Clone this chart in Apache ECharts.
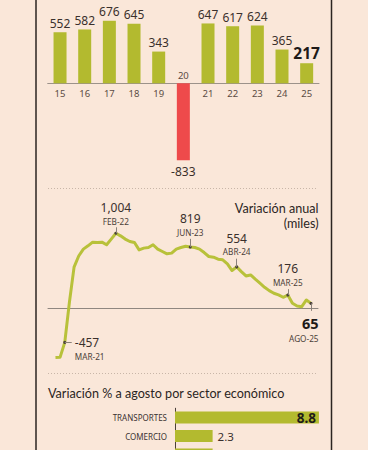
<!DOCTYPE html>
<html><head><meta charset="utf-8">
<script src="https://cdn.jsdelivr.net/npm/echarts@6/dist/echarts.min.js"></script>
<style>
html,body{margin:0;padding:0;background:#fae7d9;}
#c{width:368px;height:450px;}
#c svg text{font-stretch:62.5% !important;}
</style>
</head><body><div id="c"></div>
<script>
// ---------- DATA ----------
const years = ['15','16','17','18','19','20','21','22','23','24','25'];
const yearValues = [552,582,676,645,343,-833,647,617,624,365,217];

const monthNames = ['ENE','FEB','MAR','ABR','MAY','JUN','JUL','AGO','SEP','OCT','NOV','DIC'];
const monthYears = ['21','22','23','24','25'];
const monthlyValues = [
  -658,-655,-457,80,550,700,792,836,885,880,885,850,   // 2021
  926,1004,970,926,894,880,782,805,813,850,792,760,    // 2022
  729,738,792,813,830,819,813,792,746,693,684,657,     // 2023
  648,595,505,554,491,433,446,389,335,281,236,201,     // 2024
  178,147,176,67,31,21,111,65                          // 2025
];
const highlightMonths = ['MAR-21','FEB-22','JUN-23','ABR-24','MAR-25','AGO-25'];

const sectors = ['TRANSPORTES','COMERCIO','SERVICIOS'];
const sectorValues = [8.8, 2.3, 2.3];
const shownSectors = 2; // the third row is cut by the bottom edge in the reference

// ---------- STYLE ----------
const NARROW = '"Noto Sans Condensed","Noto Sans",sans-serif';
const SANS = 'Lato,"Noto Sans",sans-serif';
const GREEN = '#b3ba2f';
const LINE_GREEN = '#b8c13a';
const RED = '#ee4a4b';
const TEXT = '#3a302c';

const months = [];
monthYears.forEach(y => monthNames.forEach(m => months.push(m + '-' + y)));
months.length = monthlyValues.length;

const annotStyle = {
  'MAR-21': {position:'right', distance:8.5, offset:[0,6.9], tick:[1.5,0]},
  'FEB-22': {position:'top', distance:4, tick:[0,80]},
  'JUN-23': {position:'top', distance:7, tick:[0,110]},
  'ABR-24': {position:'top', distance:7.2, tick:[0,110]},
  'MAR-25': {position:'top', distance:4.7, tick:[0,80]},
  'AGO-25': {position:'bottom', distance:9, offset:[7.5,0], align:'right', bold:true, tick:[0,-100]}
};

const fmt = v => v.toLocaleString('en-US');

const lineData = monthlyValues.map((v, i) => {
  const m = months[i];
  if (highlightMonths.indexOf(m) < 0) return {value:[i, v], symbol:'none'};
  const s = annotStyle[m];
  return {
    value:[i, v], symbol:'circle', symbolSize:3,
    itemStyle:{color:'#4a4038'},
    label:{
      show:true, position:s.position, distance:s.distance, offset:s.offset || [0,0],
      align: s.align || (s.position === 'right' ? 'left' : 'center'),
      formatter: (s.bold ? '{vb|' : '{v|') + fmt(v) + '}\n{d|' + m + '}'
    }
  };
});

const tickLines = highlightMonths.map(m => {
  const i = months.indexOf(m), v = monthlyValues[i], t = annotStyle[m].tick;
  return [{coord:[i, v]}, {coord:[i + t[0], v + t[1]]}];
});

const negIndex = yearValues.findIndex(x => x < 0);

const chart = echarts.init(document.getElementById('c'), null, {renderer:'svg'});
chart.setOption({
  animation:false,
  backgroundColor:'#fae7d9',
  title:[
    {text:'Variación % a agosto por sector económico', left:48, top:387, padding:0,
     textStyle:{fontFamily:SANS, fontSize:12.6, fontWeight:'normal', color:'#2b2523'}}
  ],
  graphic:[
    {type:'line', shape:{x1:36,y1:0,x2:36,y2:450}, style:{stroke:'#2b2420', lineWidth:1.5}, silent:true},
    {type:'line', shape:{x1:331.5,y1:0,x2:331.5,y2:450}, style:{stroke:'#2b2420', lineWidth:1.5}, silent:true},
    {type:'line', shape:{x1:48,y1:188.5,x2:318,y2:188.5}, style:{stroke:'#c8b6a8', lineWidth:1, lineDash:[1,2]}, silent:true},
    {type:'line', shape:{x1:48,y1:373.5,x2:318,y2:373.5}, style:{stroke:'#c8b6a8', lineWidth:1, lineDash:[1,2]}, silent:true},
    {type:'text', x:318.5, y:201.5, silent:true,
     style:{text:'Variación anual', align:'right', verticalAlign:'top', font:'normal 12.6px ' + SANS, fill:'#2b2523'}},
    {type:'text', x:318.5, y:216.5, silent:true,
     style:{text:'(miles)', align:'right', verticalAlign:'top', font:'normal 12.6px ' + SANS, fill:'#2b2523'}}
  ],
  grid:[
    {left:47.7, width:271.3, top:18.55, height:148, outerBoundsMode:'none'},
    {left:48, width:270, top:226.1, height:141.9, outerBoundsMode:'none'},
    {left:175, width:147.2, top:408.25, height:55.5, outerBoundsMode:'none'}
  ],
  xAxis:[
    {gridIndex:0, type:'category', data:years, offset:-83.25,
     axisLine:{onZero:false, lineStyle:{color:'#9c928a', width:1}},
     axisTick:{show:false},
     axisLabel:{fontFamily:NARROW, fontSize:9.5, color:'#5a4c44', margin:5,
       formatter: v => v === years[negIndex] ? '' : v}},
    {gridIndex:1, type:'value', min:-1.61, max:56.5,
     axisLine:{show:true, onZero:true, lineStyle:{color:'#8f8780', width:1}},
     axisTick:{show:false}, axisLabel:{show:false}, splitLine:{show:false}},
    {gridIndex:2, type:'value', min:0, max:9, show:false, splitLine:{show:false}}
  ],
  yAxis:[
    {gridIndex:0, type:'value', min:-900, max:700, show:false, splitLine:{show:false}},
    {gridIndex:1, type:'value', min:-800, max:1100, show:false, splitLine:{show:false}},
    {gridIndex:2, type:'category', data:sectors, inverse:true,
     axisLine:{show:true, lineStyle:{color:'#4a403a', width:1}},
     axisTick:{show:false},
     axisLabel:{fontFamily:NARROW, fontSize:8, color:'#3b3232', margin:8,
       formatter: (v, i) => i < shownSectors ? v : ''}}
  ],
  series:[
    {type:'bar', xAxisIndex:0, yAxisIndex:0, barWidth:13,
     data: yearValues.map((v, i) => {
       const last = i === yearValues.length - 1;
       const item = {value:v, itemStyle:{color: v < 0 ? RED : GREEN}};
       if (v < 0) item.label = {position:'bottom', distance:5};
       if (last) item.label = {fontSize:15.5, fontWeight:'bold', color:'#1e1a18', distance:2};
       return item;
     }),
     label:{show:true, position:'top', distance:3, fontFamily:NARROW, fontSize:12, color:TEXT},
     markPoint:{
       symbol:'circle', symbolSize:0, silent:true,
       data: [{coord:[years[negIndex], 0], name:years[negIndex]}],
       label:{show:true, position:'top', distance:3, formatter: p => p.name,
              fontFamily:NARROW, fontSize:9.5, color:'#5a4c44'}
     }
    },
    {type:'line', xAxisIndex:1, yAxisIndex:1, data:lineData,
     lineStyle:{color:LINE_GREEN, width:3, join:'round'}, itemStyle:{color:LINE_GREEN},
     showSymbol:true, symbol:'none',
     label:{fontFamily:NARROW, rich:{
       v:{fontFamily:NARROW, fontSize:12, lineHeight:15, color:TEXT},
       vb:{fontFamily:NARROW, fontSize:14.5, fontWeight:'bold', lineHeight:18, color:'#1e1a18'},
       d:{fontFamily:NARROW, fontSize:8.2, lineHeight:12.6, color:'#4a4038'}
     }},
     markLine:{silent:true, symbol:'none', label:{show:false},
       lineStyle:{color:'#8a817a', width:1, type:'solid'}, data:tickLines}
    },
    {type:'bar', xAxisIndex:2, yAxisIndex:2, barWidth:12,
     itemStyle:{color:GREEN},
     data: sectorValues.map((v, i) => i === 0
       ? {value:v, label:{position:'insideRight', distance:3, fontSize:13.5, fontWeight:'bold', color:'#1e1a18'}}
       : (i < shownSectors ? {value:v} : {value:v, label:{show:false}})),
     label:{show:true, position:'right', distance:5, fontFamily:NARROW, fontSize:11.5, color:TEXT}
    }
  ]
});
</script></body></html>
